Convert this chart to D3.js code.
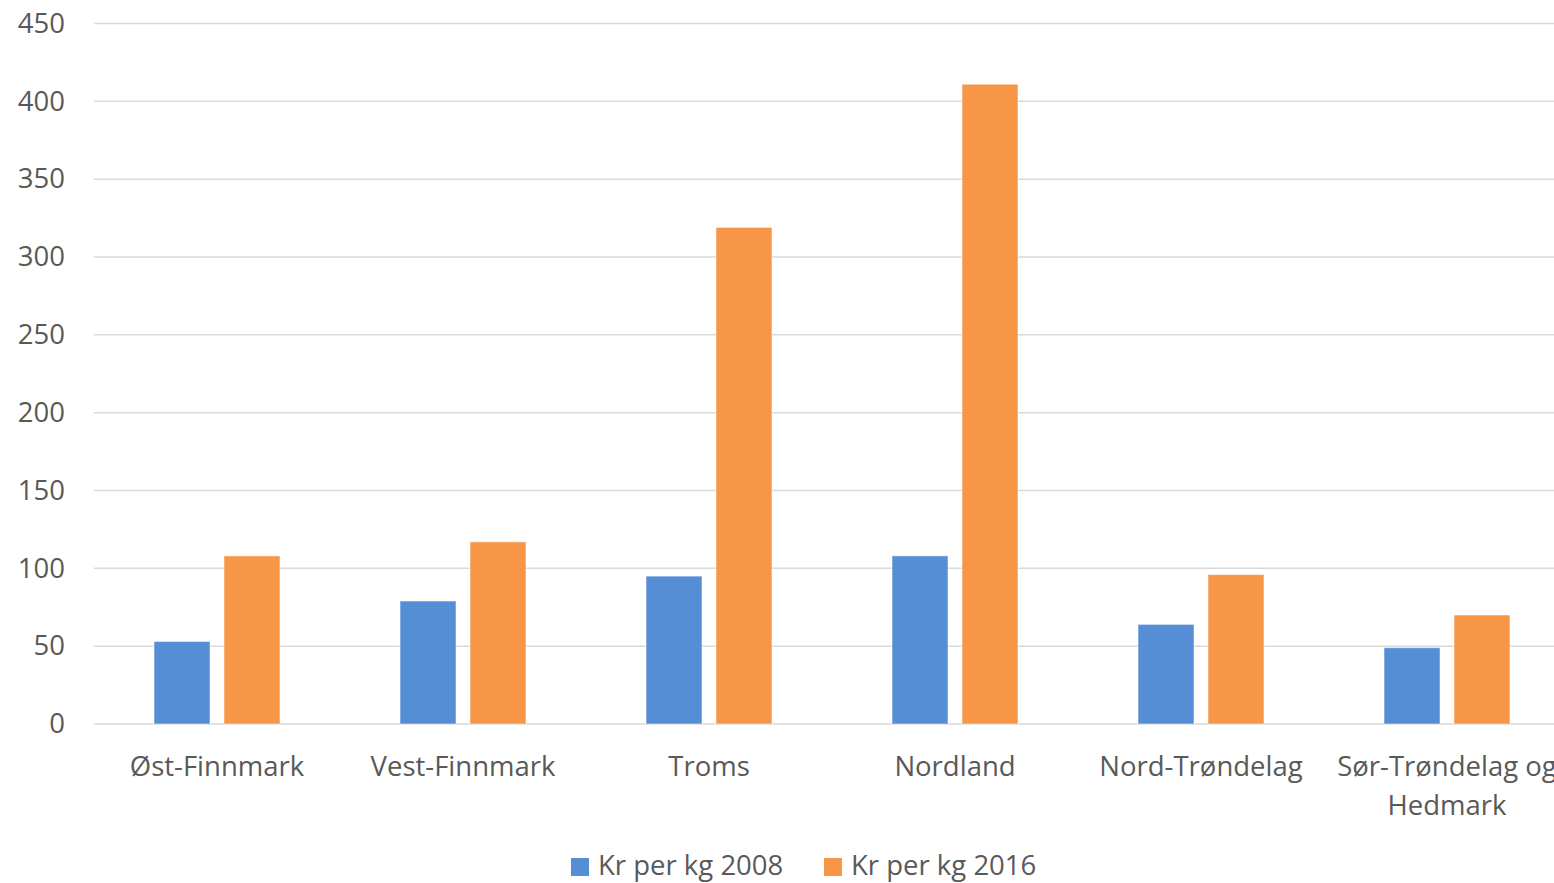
<!DOCTYPE html>
<html lang="nb">
<head>
<meta charset="UTF-8">
<title>Kr per kg</title>
<script src="https://d3js.org/d3.v7.min.js"></script>
<style>
    html, body { margin: 0; padding: 0; background: #fff; overflow: hidden; }
    svg { display: block; }
    text { font-family: "Open Sans", "Liberation Sans", sans-serif; fill: #595959; }
</style>
</head>
<body>
<svg></svg>
<script>
    // data
    var regions = ["Øst-Finnmark", "Vest-Finnmark", "Troms", "Nordland", "Nord-Trøndelag", "Sør-Trøndelag og Hedmark"];
    var seriesNames = ["Kr per kg 2008", "Kr per kg 2016"];
    var values2008 = [53, 79, 95, 108, 64, 49];
    var values2016 = [108, 117, 319, 411, 96, 70];
    var yTicks = [0, 50, 100, 150, 200, 250, 300, 350, 400, 450];
    var colors = ["#558ED5", "#F79646"];

    var w = 1554, h = 883;
    var fs = 27.5;
    var svg = d3.select("svg").attr("width", w).attr("height", h);

    var x0 = d3.scaleBand().domain(regions).range([94, 1570]);
    var bw = x0.bandwidth();
    var x1 = d3.scaleBand().domain([0, 1]).range([bw * 0.244, bw * 0.756]).paddingInner(0.2);
    var y = d3.scaleLinear().domain([0, 450]).range([724, 23.5]);

    // gridlines
    svg.append("g")
        .selectAll("line")
        .data(yTicks)
        .join("line")
        .attr("x1", 94).attr("x2", w)
        .attr("y1", d => y(d)).attr("y2", d => y(d))
        .attr("stroke", "#d9d9d9")
        .attr("stroke-width", 1.5);

    // y axis labels
    var yAxis = d3.axisLeft(y).tickValues(yTicks).tickSize(0).tickPadding(0);
    var ya = svg.append("g").attr("transform", "translate(65,0)").call(yAxis);
    ya.select(".domain").remove();
    ya.selectAll("text").attr("font-size", fs).attr("font-family", null).attr("fill", "#595959");

    // bars
    var rows = regions.map((r, i) => ({ region: r, vals: [values2008[i], values2016[i]] }));
    var groups = svg.append("g").selectAll("g")
        .data(rows)
        .join("g")
        .attr("transform", d => "translate(" + x0(d.region) + ",0)");

    groups.selectAll("rect")
        .data(d => d.vals.map((v, k) => ({ k: k, v: v })))
        .join("rect")
        .attr("x", d => x1(d.k))
        .attr("width", x1.bandwidth())
        .attr("y", d => y(d.v))
        .attr("height", d => y(0) - y(d.v))
        .attr("fill", d => colors[d.k])
        .attr("stroke", "#fff")
        .attr("stroke-opacity", 0.5)
        .attr("stroke-width", 1);

    // x labels
    var xl = svg.append("g").selectAll("text")
        .data(regions)
        .join("text")
        .attr("x", d => x0(d) + bw / 2)
        .attr("y", 776)
        .attr("text-anchor", "middle")
        .attr("font-size", fs);
    xl.each(function(d) {
        var t = d3.select(this);
        if (d === "Sør-Trøndelag og Hedmark") {
            t.append("tspan").attr("x", x0(d) + bw / 2).text("Sør-Trøndelag og");
            t.append("tspan").attr("x", x0(d) + bw / 2).attr("dy", 39).text("Hedmark");
        } else {
            t.text(d);
        }
    });

    // legend
    var legendX = [571, 824];
    var lg = svg.append("g").selectAll("g")
        .data(seriesNames)
        .join("g")
        .attr("transform", (d, i) => "translate(" + legendX[i] + ",858)");
    lg.append("rect").attr("width", 18).attr("height", 18).attr("fill", (d, i) => colors[i]);
    lg.append("text").attr("x", 27).attr("y", 17).attr("font-size", fs).text(d => d);
</script>
</body>
</html>
